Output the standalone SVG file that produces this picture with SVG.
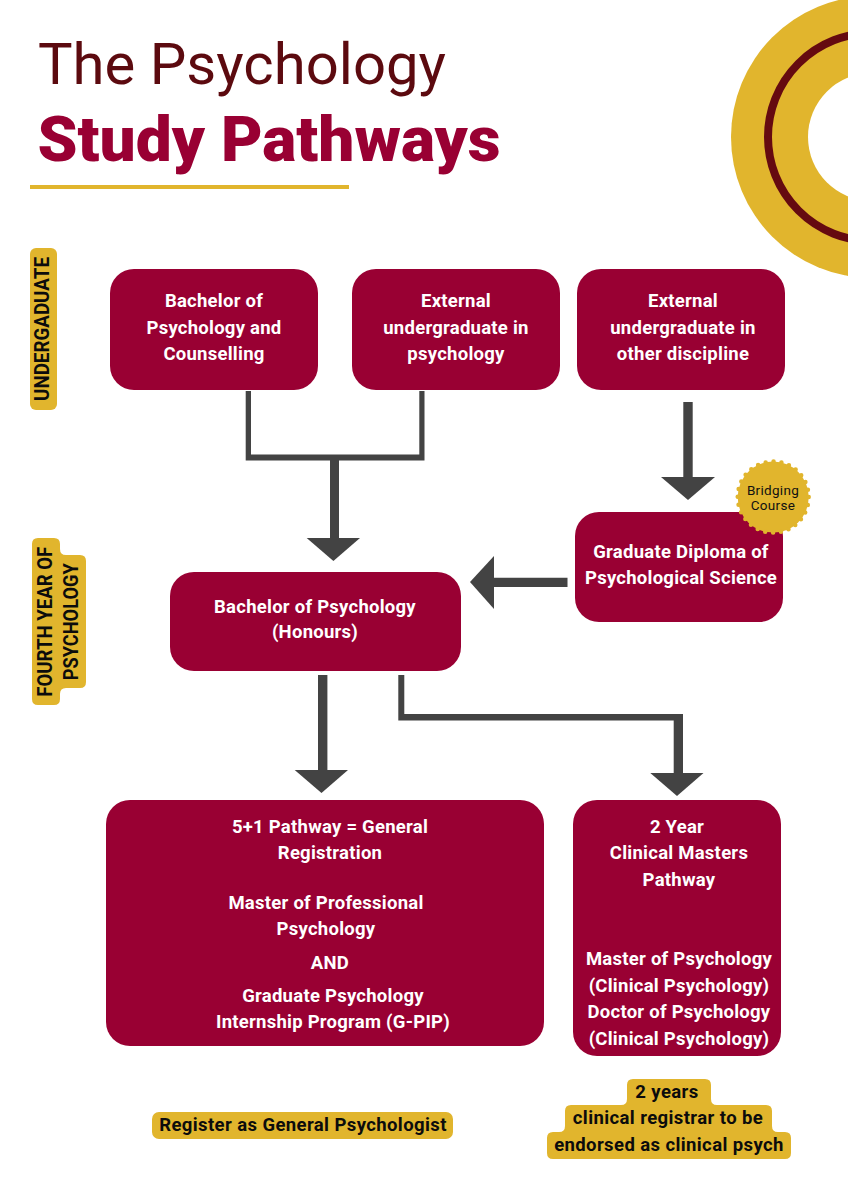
<svg xmlns="http://www.w3.org/2000/svg" width="848" height="1200" viewBox="0 0 848 1200">
<defs><style>
text{font-family:"Roboto","Liberation Sans",sans-serif;text-anchor:middle}
.n{fill:#990033}
.w{fill:#fff;font-weight:700;font-size:18.5px;letter-spacing:.25px}
.g{fill:#e1b52d}
.k{fill:#0c0c0c;font-weight:700;font-size:18.5px;letter-spacing:.4px}
.v{fill:#0c0c0c;font-weight:700;font-size:20px}
.h{fill:#434343}
</style></defs>
<rect width="848" height="1200" fill="#fff"/>
<g id="title">
<text x="242" y="84" font-size="58" fill="#5c0a0f" textLength="408" lengthAdjust="spacingAndGlyphs">The Psychology</text>
<text x="269" y="161" font-size="63" font-weight="900" fill="#990033" textLength="463" lengthAdjust="spacingAndGlyphs">Study Pathways</text>
<rect x="30" y="185" width="319" height="4" class="g"/>
</g>
<g id="ring">
<circle cx="872" cy="137" r="141" class="g"/>
<circle cx="872" cy="137" r="104" fill="none" stroke="#650a10" stroke-width="8"/>
<circle cx="872" cy="137" r="64" fill="#fff"/>
</g>
<g id="connectors" class="h">
<path d="M245.7 391H251V454.5H419.3V391H424.5V460.5H245.7Z"/>
<path d="M330 460H339V539H330Z"/>
<path d="M306.7 538H360L333.4 561Z"/>
<path d="M683.3 402H692.7V478H683.3Z"/>
<path d="M661 477H715L688 500Z"/>
<path d="M567.5 577.7V587H490V577.7Z"/>
<path d="M494 556V609L470 582Z"/>
<path d="M318 675H327.4V771H318Z"/>
<path d="M294.7 770H348L321.5 793Z"/>
<path d="M398.3 675H404.3V714H683V774H673.7V720.5H398.3Z"/>
<path d="M650.3 773H703.5L677 796Z"/>
</g>
<g id="undergraduate-label">
<rect x="30" y="248" width="27" height="162" rx="6" class="g"/>
<text transform="translate(49 329) rotate(-90)" class="v" textLength="144" lengthAdjust="spacingAndGlyphs">UNDERGADUATE</text>
</g>
<g id="fourth-year-label">
<path class="g" d="M38 538H54Q60 538 60 544V549Q60 555 66 555H80Q86 555 86 561V682Q86 688 80 688H66Q60 688 60 694V699Q60 705 54 705H38Q32 705 32 699V544Q32 538 38 538Z"/>
<text transform="translate(52 621.7) rotate(-90)" class="v" textLength="150" lengthAdjust="spacingAndGlyphs">FOURTH YEAR OF</text>
<text transform="translate(78 621.7) rotate(-90)" class="v" textLength="117" lengthAdjust="spacingAndGlyphs">PSYCHOLOGY</text>
</g>
<g id="node-bpc">
<rect x="110" y="269" width="208" height="121" rx="24" class="n"/>
<text x="214" y="307" class="w">Bachelor of</text><text x="214" y="334" class="w">Psychology and</text><text x="214" y="360" class="w">Counselling</text>
</g>
<g id="node-ext-psych">
<rect x="352" y="269" width="208" height="121" rx="24" class="n"/>
<text x="456" y="307" class="w">External</text><text x="456" y="334" class="w">undergraduate in</text><text x="456" y="360" class="w">psychology</text>
</g>
<g id="node-ext-other">
<rect x="577" y="269" width="208" height="121" rx="24" class="n"/>
<text x="683" y="307" class="w">External</text><text x="683" y="334" class="w">undergraduate in</text><text x="683" y="360" class="w">other discipline</text>
</g>
<g id="node-gradip">
<rect x="575" y="512" width="208" height="110" rx="24" class="n"/>
<text x="681" y="558" class="w">Graduate Diploma of</text><text x="681" y="584" class="w">Psychological Science</text>
</g>
<g id="badge-bridging">
<circle cx="773.2" cy="497.1" r="35.5" class="g"/>
<circle cx="773.2" cy="497.1" r="35.5" fill="none" stroke="#e1b52d" stroke-width="4.5" stroke-linecap="round" stroke-dasharray="0 7.97"/>
<text x="773" y="495" font-size="13.5" fill="#111" letter-spacing=".3">Bridging</text><text x="773" y="510" font-size="13.5" fill="#111" letter-spacing=".3">Course</text>
</g>
<g id="node-honours">
<rect x="170" y="572" width="291" height="99" rx="24" class="n"/>
<text x="315" y="613" class="w">Bachelor of Psychology</text><text x="315" y="638" class="w">(Honours)</text>
</g>
<g id="node-five-plus-one">
<rect x="106" y="800" width="438" height="246" rx="24" class="n"/>
<text x="330" y="833" class="w">5+1 Pathway = General</text><text x="330" y="859" class="w">Registration</text>
<text x="326" y="909" class="w">Master of Professional</text><text x="326" y="935" class="w">Psychology</text>
<text x="330" y="969" class="w">AND</text>
<text x="333" y="1002" class="w">Graduate Psychology</text><text x="333" y="1028" class="w">Internship Program (G-PIP)</text>
</g>
<g id="node-clinical">
<rect x="573" y="800" width="208" height="256" rx="24" class="n"/>
<text x="677" y="833" class="w">2 Year</text><text x="679" y="859" class="w">Clinical Masters</text><text x="679" y="886" class="w">Pathway</text>
<text x="679" y="965" class="w">Master of Psychology</text><text x="679" y="992" class="w">(Clinical Psychology)</text><text x="679" y="1018" class="w">Doctor of Psychology</text><text x="679" y="1045" class="w">(Clinical Psychology)</text>
</g>
<g id="label-general">
<rect x="152" y="1112" width="301" height="27" rx="7" class="g"/>
<text x="303" y="1131" class="k">Register as General Psychologist</text>
</g>
<g id="label-registrar">
<path class="g" d="M633 1079H705Q711 1079 711 1085V1099Q711 1105 717 1105H766Q772 1105 772 1111V1126Q772 1132 778 1132H785Q791 1132 791 1138V1153Q791 1159 785 1159H553Q547 1159 547 1153V1138Q547 1132 553 1132H559Q565 1132 565 1126V1111Q565 1105 571 1105H621Q627 1105 627 1099V1085Q627 1079 633 1079Z"/>
<text x="667" y="1098" class="k">2 years</text><text x="668" y="1124" class="k">clinical registrar to be</text><text x="669" y="1151" class="k">endorsed as clinical psych</text>
</g>
</svg>
